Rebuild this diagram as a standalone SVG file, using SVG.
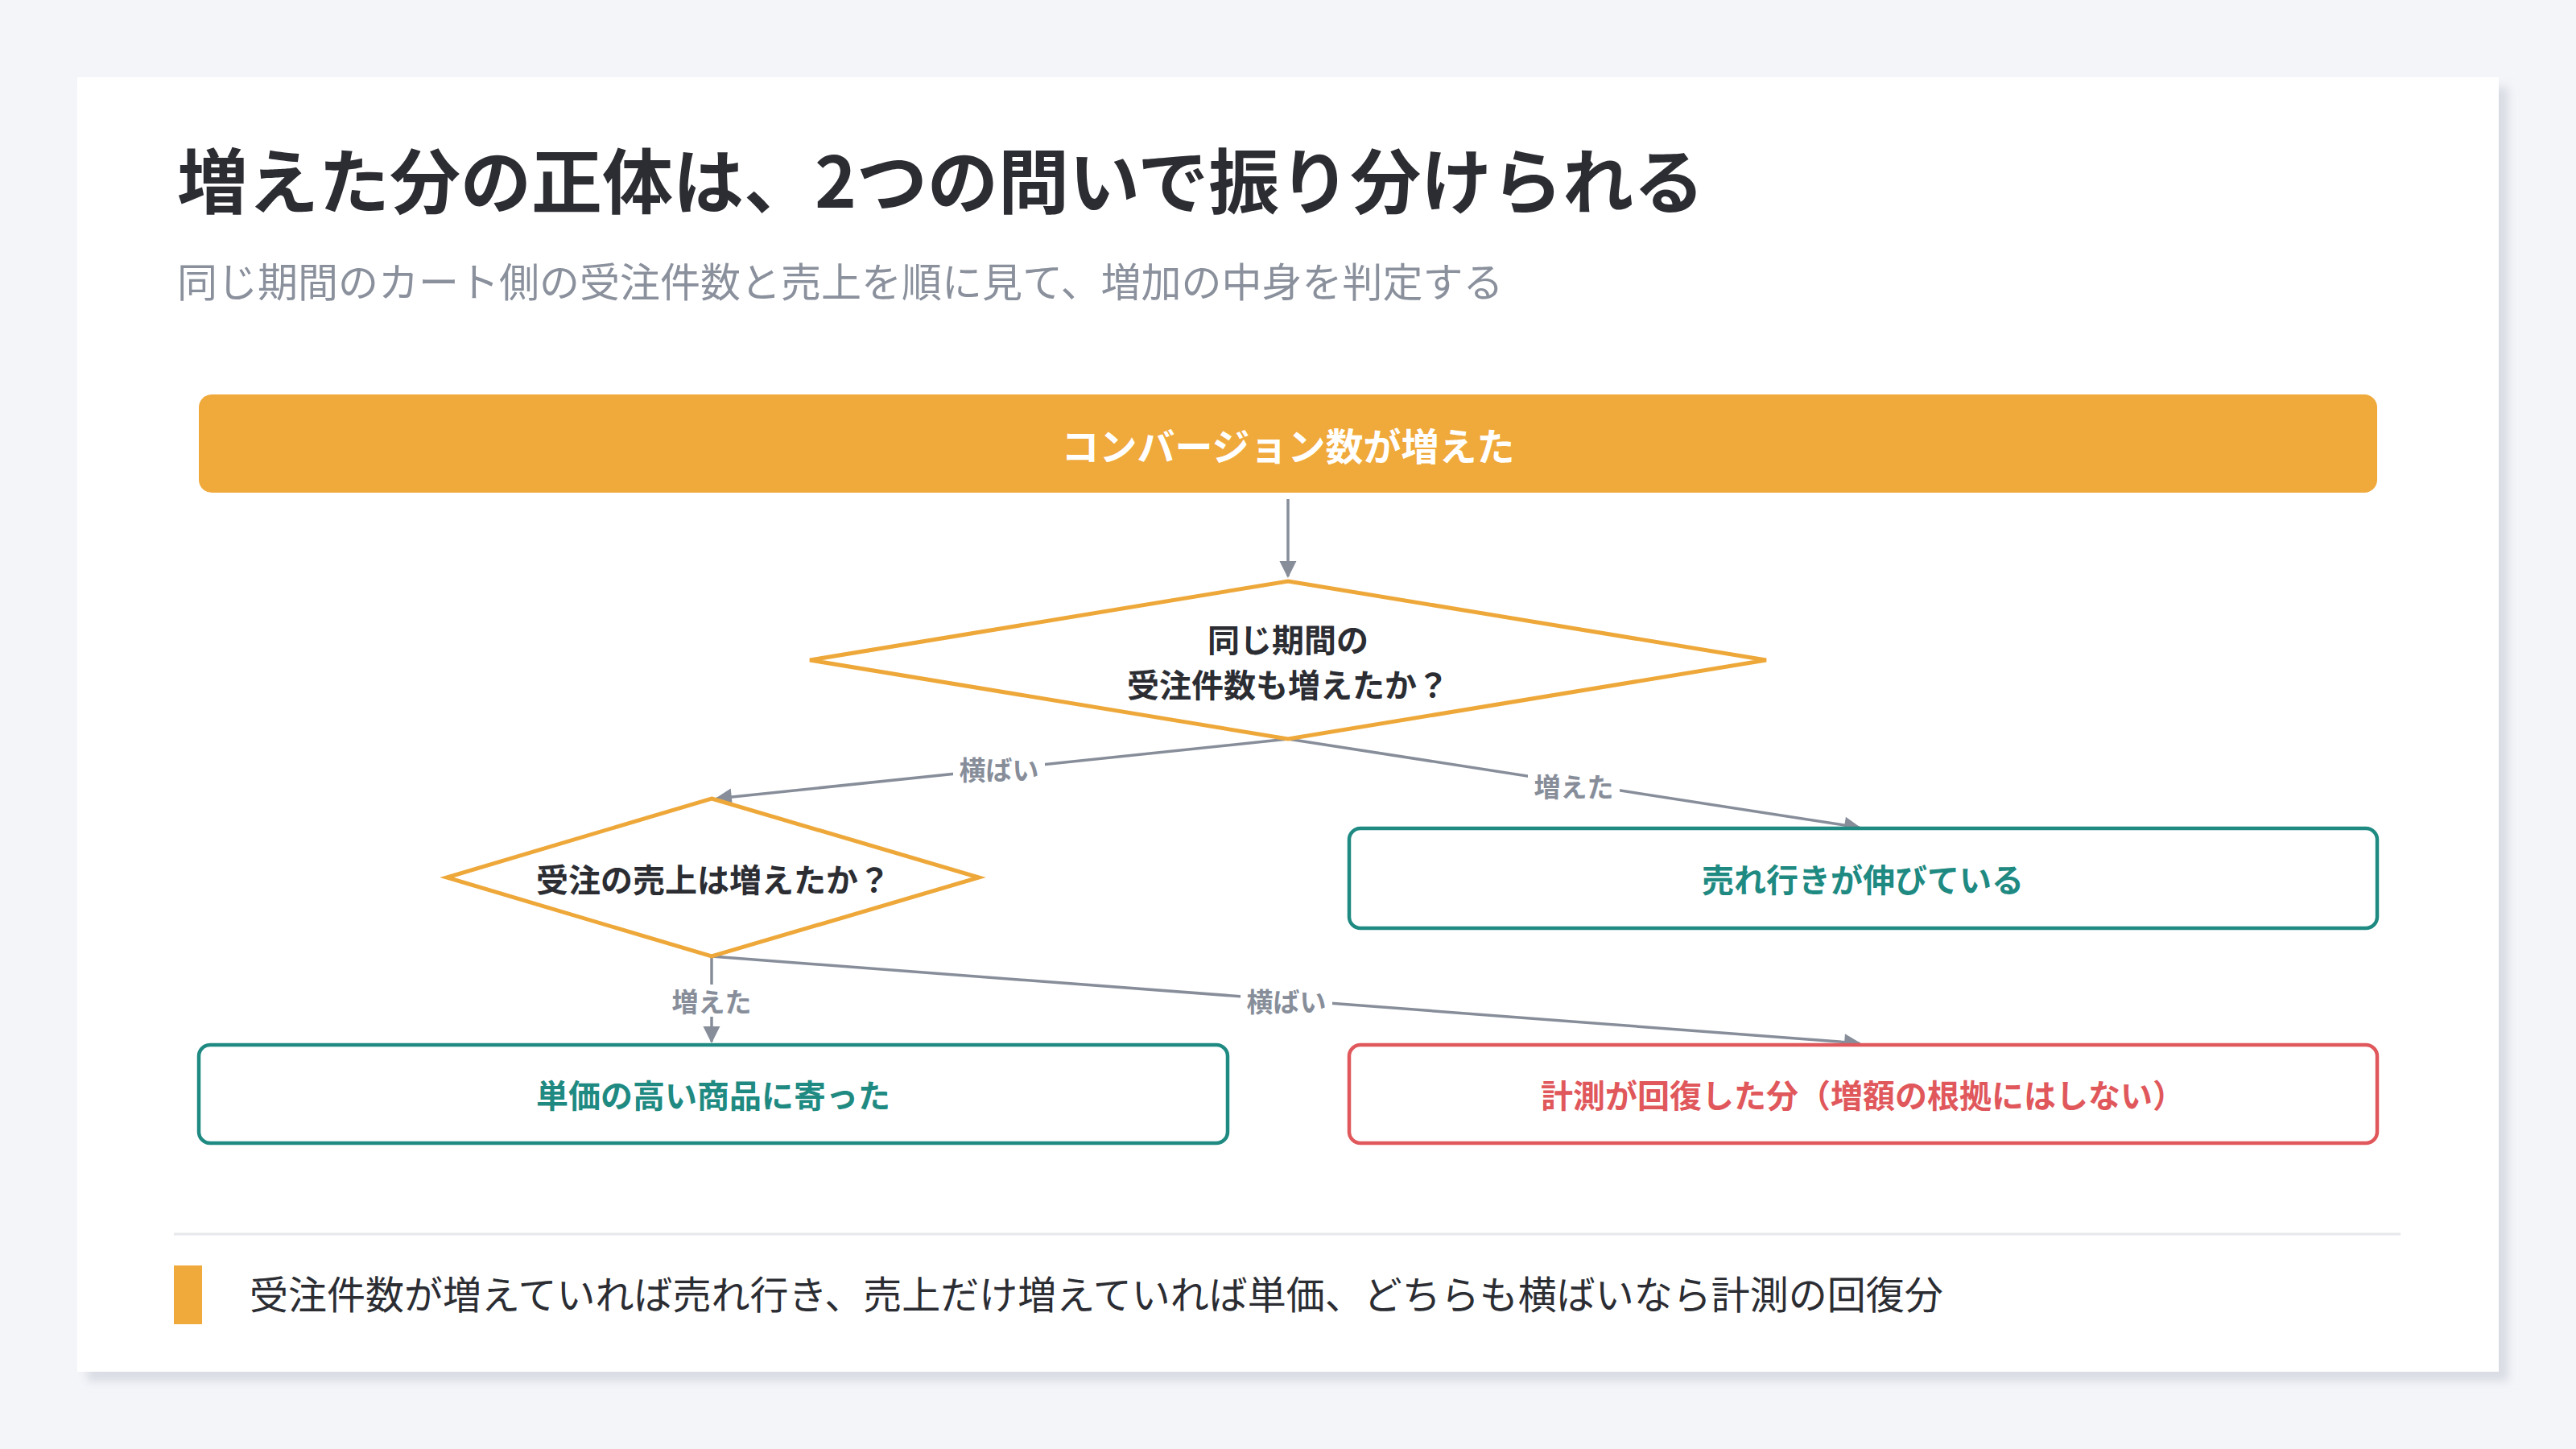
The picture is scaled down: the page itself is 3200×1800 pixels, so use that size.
<svg xmlns="http://www.w3.org/2000/svg" width="3200" height="1800" viewBox="0 0 3200 1800">
<style>
text{font-family:"Noto Sans CJK JP","Noto Sans CJK SC",sans-serif}
.node{font-weight:700;font-size:40px;text-anchor:middle;dominant-baseline:central}
.edge{stroke:#878e9a;stroke-width:3.5;fill:none;marker-end:url(#ah)}
.lbl{font-size:33px;font-weight:700;fill:#878e9a;text-anchor:middle;dominant-baseline:central}
.lbg{fill:#ffffff}
.dia{fill:#ffffff;stroke:#eea83a;stroke-width:5}
.teal{fill:#ffffff;stroke:#1f8a82;stroke-width:4.5}
.red{fill:#ffffff;stroke:#e0585b;stroke-width:4.5}
</style>
<defs>
<marker id="ah" viewBox="0 0 10 10" refX="9" refY="5" markerWidth="7" markerHeight="7" markerUnits="userSpaceOnUse" orient="auto" style="overflow:visible">
<path d="M0,0 L10,5 L0,10 z" fill="#878e9a" transform="scale(3) translate(-6,-3.3)"/>
</marker>
<filter id="sh" x="-5%" y="-5%" width="110%" height="110%"><feDropShadow dx="12" dy="12" stdDeviation="6" flood-color="#c8ccd6" flood-opacity="0.6"/></filter>
</defs>
<rect width="3200" height="1800" fill="#f4f5f9"/>
<rect x="96" y="96" width="3008" height="1608" fill="#ffffff" filter="url(#sh)"/>
<text x="220" y="258" font-size="88" font-weight="700" fill="#2b2d33">増えた分の正体は、2つの問いで振り分けられる</text>
<text x="220" y="369" font-size="50" fill="#8a909c">同じ期間のカート側の受注件数と売上を順に見て、増加の中身を判定する</text>
<g id="connectors">
<path class="edge" d="M1600,620 L1600,716"/>
<path class="edge" d="M1600,918 L890,992"/>
<path class="edge" d="M1600,918 L2310,1028"/>
<path class="edge" d="M884,1188 L884,1294"/>
<path class="edge" d="M884,1188 L2310,1296"/>
<rect class="lbg" x="1184" y="935" width="114" height="40"/><text class="lbl" x="1241" y="955">横ばい</text>
<rect class="lbg" x="1898" y="956" width="114" height="40"/><text class="lbl" x="1955" y="976">増えた</text>
<rect class="lbg" x="827" y="1223" width="114" height="40"/><text class="lbl" x="884" y="1243">増えた</text>
<rect class="lbg" x="1541" y="1223" width="114" height="40"/><text class="lbl" x="1598" y="1243">横ばい</text>
</g>
<g id="n-top">
<rect x="247" y="490" width="2706" height="122" rx="16" fill="#f0a93b"/>
<text class="node" x="1600" y="551" fill="#ffffff" font-size="47" style="font-size:47px">コンバージョン数が増えた</text>
</g>
<g id="n-q1">
<polygon class="dia" points="1600,722 2194,820 1600,918 1006,820"/>
<text class="node" x="1600" y="793" fill="#2b2d33">同じ期間の</text>
<text class="node" x="1600" y="849" fill="#2b2d33">受注件数も増えたか？</text>
</g>
<g id="n-q2">
<polygon class="dia" points="884,992 1216,1090 884,1188 555,1090"/>
<text class="node" x="886" y="1091" fill="#2b2d33">受注の売上は増えたか？</text>
</g>
<g id="n-sales">
<rect class="teal" x="1676" y="1029" width="1277" height="124" rx="14"/>
<text class="node" x="2314" y="1091" fill="#1f8a82">売れ行きが伸びている</text>
</g>
<g id="n-price">
<rect class="teal" x="247" y="1298" width="1278" height="122" rx="14"/>
<text class="node" x="886" y="1359" fill="#1f8a82">単価の高い商品に寄った</text>
</g>
<g id="n-measure">
<rect class="red" x="1676" y="1298" width="1277" height="122" rx="14"/>
<text class="node" x="2314" y="1359" fill="#e0585b">計測が回復した分（増額の根拠にはしない）</text>
</g>
<line x1="216" y1="1533" x2="2982" y2="1533" stroke="#e6e8ec" stroke-width="3"/>
<rect x="216" y="1572" width="35" height="73" fill="#f0a93b"/>
<text x="310" y="1626" font-size="48" fill="#2b2d33">受注件数が増えていれば売れ行き、売上だけ増えていれば単価、どちらも横ばいなら計測の回復分</text>
</svg>
